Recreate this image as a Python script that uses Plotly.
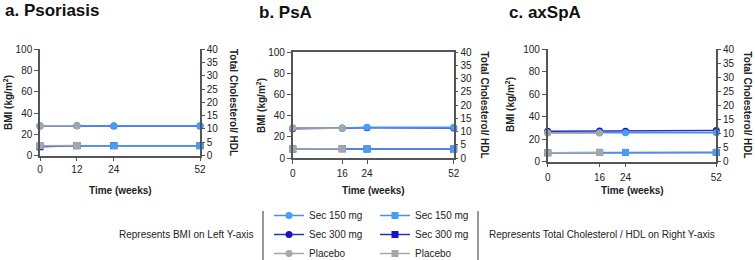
import plotly.graph_objects as go

# ---------------- data ----------------
weeks_pso = [0, 12, 24, 52]
weeks_psa = [0, 16, 24, 52]
weeks_ax = [0, 16, 24, 52]

# BMI (left axis)
bmi_pso_150 = [28.0, 28.0, 28.0, 28.0]
bmi_pso_300 = [27.8, 27.9, 27.8, 27.8]
bmi_pso_pbo = [28.0, 28.1]
bmi_psa_150 = [28.5, 28.3, 29.0, 29.0]
bmi_psa_300 = [27.6, 28.0, 28.6, 28.2]
bmi_psa_pbo = [28.4, 28.0]
bmi_ax_150 = [25.8, 25.8, 25.8, 25.8]
bmi_ax_300 = [27.2, 27.3, 27.2, 27.8]
bmi_ax_pbo = [25.5, 25.6]

# Total cholesterol / HDL (right axis)
chol_pso_150 = [3.7, 3.7, 3.7, 3.7]
chol_pso_300 = [3.3, 3.7, 3.7, 3.7]
chol_pso_pbo = [3.7, 3.8]
chol_psa_150 = [3.4, 3.5, 3.4, 3.4]
chol_psa_300 = [3.4, 3.5, 3.4, 3.4]
chol_psa_pbo = [3.4, 3.5]
chol_ax_150 = [3.2, 3.3, 3.3, 3.3]
chol_ax_300 = [3.2, 3.3, 3.3, 3.3]
chol_ax_pbo = [3.2, 3.3]

panel_titles = ["a. Psoriasis", "b. PsA", "c. axSpA"]
series_names = ["Sec 150 mg", "Sec 300 mg", "Placebo"]
bmi_ticks = [0, 20, 40, 60, 80, 100]
chol_ticks = [0, 5, 10, 15, 20, 25, 30, 35, 40]

# ---------------- layout helpers ----------------
W, H = 755, 260
def px(x):
    return x / W
def py(y):
    return 1 - y / H

FONT = "Liberation Sans, Arial, sans-serif"
AX = "#555555"
TXT = "#222222"
COL = {"Sec 150 mg": "#4a9df5", "Sec 300 mg": "#1414c4", "Placebo": "#a6a6a6"}
LINECOL = {"Sec 150 mg": "#4a8ff0", "Sec 300 mg": "#2030c8", "Placebo": "#a6a6a6"}
RANK = {"Sec 150 mg": 1, "Sec 300 mg": 2, "Placebo": 3}

panels = [
    dict(weeks=weeks_pso, bmi=[bmi_pso_150, bmi_pso_300, bmi_pso_pbo],
         chol=[chol_pso_150, chol_pso_300, chol_pso_pbo],
         xd=(40, 200), yd=(49.3, 155.5), tickstand=0, mirror=False),
    dict(weeks=weeks_psa, bmi=[bmi_psa_150, bmi_psa_300, bmi_psa_pbo],
         chol=[chol_psa_150, chol_psa_300, chol_psa_pbo],
         xd=(292.7, 453.7), yd=(52, 158), tickstand=1, mirror=True),
    dict(weeks=weeks_ax, bmi=[bmi_ax_150, bmi_ax_300, bmi_ax_pbo],
         chol=[chol_ax_150, chol_ax_300, chol_ax_pbo],
         xd=(547.7, 716.3), yd=(49.3, 161.7), tickstand=2, mirror=False),
]

fig = go.Figure()
layout = {}
annotations = []

draw_order = [1, 0, 2]  # Sec 300, Sec 150, Placebo
for i, p in enumerate(panels):
    n = i + 1
    xa = "x" if n == 1 else f"x{n}"
    ya = "y" if n == 1 else f"y{n}"
    yr = f"y{n + 3}"
    for k in draw_order:
        name = series_names[k]
        vals = p["bmi"][k]
        fig.add_trace(go.Scatter(
            x=p["weeks"][:len(vals)], y=vals, xaxis=xa, yaxis=ya, name=name,
            mode="lines+markers", cliponaxis=False,
            line=dict(color=LINECOL[name], width=1.5),
            marker=dict(symbol="circle", size=7, color=COL[name]),
            showlegend=(n == 1), legend="legend", legendrank=RANK[name]))
    for k in draw_order:
        name = series_names[k]
        vals = p["chol"][k]
        fig.add_trace(go.Scatter(
            x=p["weeks"][:len(vals)], y=vals, xaxis=xa, yaxis=yr, name=name,
            mode="lines+markers", cliponaxis=False,
            line=dict(color=LINECOL[name], width=1.5),
            marker=dict(symbol="square", size=7, color=COL[name]),
            showlegend=(n == 1), legend="legend2", legendrank=RANK[name]))

    x0, x1 = p["xd"]
    yt, yb = p["yd"]
    xkey = "xaxis" if n == 1 else f"xaxis{n}"
    ykey = "yaxis" if n == 1 else f"yaxis{n}"
    layout[xkey] = dict(domain=[px(x0), px(x1)], anchor=ya, range=[0, 52],
                        tickvals=p["weeks"], ticks="outside", ticklen=4,
                        tickcolor=AX, showline=True, linecolor=AX, linewidth=1.5,
                        mirror=p["mirror"], showgrid=False, zeroline=False,
                        ticklabelstandoff=p["tickstand"],
                        tickfont=dict(size=10, color=TXT, family=FONT))
    layout[ykey] = dict(domain=[py(yb), py(yt)], anchor=xa, range=[0, 100],
                        tickvals=bmi_ticks, ticks="outside", ticklen=4,
                        tickcolor=AX, showline=True, linecolor=AX, linewidth=1.5,
                        showgrid=False, zeroline=False,
                        tickfont=dict(size=10, color=TXT, family=FONT))
    layout[f"yaxis{n + 3}"] = dict(overlaying=ya, anchor=xa, side="right",
                                   range=[0, 40], tickvals=chol_ticks,
                                   ticks="outside", ticklen=3, tickcolor=AX,
                                   showline=True, linecolor=AX, linewidth=1.5,
                                   showgrid=False, zeroline=False,
                                   tickfont=dict(size=10, color=TXT, family=FONT))

# titles and axis titles
title_pos = [(3, 11), (257, 12), (507, 12)]
for t, (tx, ty) in zip(panel_titles, title_pos):
    annotations.append(dict(text=f"<b>{t}</b>", x=px(tx), y=py(ty), xref="paper",
                            yref="paper", xanchor="left", yanchor="middle",
                            showarrow=False, font=dict(size=17, color="#111", family=FONT)))
xt_pos = [120, 373, 632]
for xc in xt_pos:
    annotations.append(dict(text="<b>Time (weeks)</b>", x=px(xc), y=py(190),
                            xref="paper", yref="paper", xanchor="center", yanchor="middle",
                            showarrow=False, font=dict(size=10, color=TXT, family=FONT)))
yl_pos = [(8, 103), (261, 106), (510, 105)]
for xc, yc in yl_pos:
    annotations.append(dict(text="<b>BMI (kg/m<sup>2</sup>)</b>", x=px(xc), y=py(yc),
                            xref="paper", yref="paper", xanchor="center", yanchor="middle",
                            textangle=-90, showarrow=False,
                            font=dict(size=10, color=TXT, family=FONT)))
yr_pos = [(233, 102, "center"), (484, 104.5, "center"), (755, 105, "right")]
for xc, yc, anc in yr_pos:
    annotations.append(dict(text="<b>Total Cholesterol/ HDL</b>", x=px(xc), y=py(yc),
                            xref="paper", yref="paper", xanchor=anc, yanchor="middle",
                            textangle=90, showarrow=False,
                            font=dict(size=10, color=TXT, family=FONT)))

# legend side texts
annotations.append(dict(text="Represents BMI on Left Y-axis", x=px(256), y=py(234),
                        xref="paper", yref="paper", xanchor="right", yanchor="middle",
                        showarrow=False, font=dict(size=10, color=TXT, family=FONT)))
annotations.append(dict(text="Represents Total Cholesterol / HDL on Right Y-axis",
                        x=px(487), y=py(234), xref="paper", yref="paper",
                        xanchor="left", yanchor="middle", showarrow=False,
                        font=dict(size=10, color=TXT, family=FONT)))

shapes = [
    dict(type="line", xref="paper", yref="paper", x0=px(263), x1=px(263),
         y0=py(211), y1=py(260), line=dict(color="#333", width=1)),
    dict(type="line", xref="paper", yref="paper", x0=px(478), x1=px(478),
         y0=py(211), y1=py(260), line=dict(color="#333", width=1)),
]

legend_common = dict(xref="container", yref="container", xanchor="left", yanchor="top",
                     bgcolor="rgba(0,0,0,0)", borderwidth=0, orientation="v",
                     font=dict(size=10, color=TXT, family=FONT), tracegroupgap=0)

fig.update_layout(
    width=W, height=H, margin=dict(l=0, r=0, t=0, b=0, autoexpand=False),
    paper_bgcolor="white", plot_bgcolor="white",
    font=dict(family=FONT, size=10, color=TXT),
    annotations=annotations, shapes=shapes,
    legend=dict(x=px(269), y=py(201), **legend_common),
    legend2=dict(x=px(375), y=py(201), **legend_common),
    **layout,
)

fig.write_html("out.html", config={"displayModeBar": False},
               post_script="document.body.style.margin='0';document.body.style.overflow='hidden';")
